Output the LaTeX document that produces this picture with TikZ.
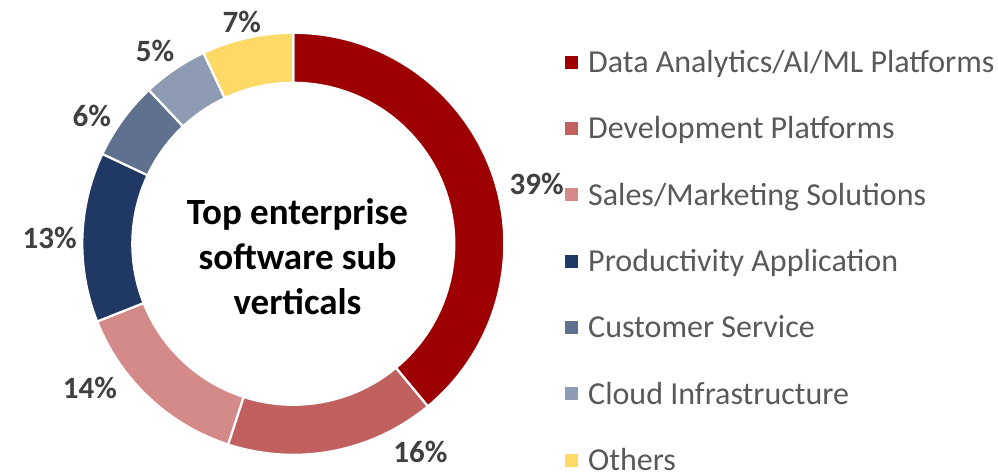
\documentclass[tikz,border=0pt]{standalone}
\usepackage{fontspec}
\setmainfont{Carlito}
\usepackage{xcolor}
\usetikzlibrary{positioning}

\definecolor{cData}{HTML}{9C0000}
\definecolor{cDev}{HTML}{C0605F}
\definecolor{cSales}{HTML}{D38A89}
\definecolor{cProd}{HTML}{203864}
\definecolor{cCust}{HTML}{5F718F}
\definecolor{cCloud}{HTML}{8E9CB3}
\definecolor{cOther}{HTML}{FFD966}
\definecolor{pctgray}{HTML}{404040}
\definecolor{leggray}{HTML}{595959}

\begin{document}
\begin{tikzpicture}[x=1pt,y=1pt,
    pct/.style={font=\fontsize{31}{37}\selectfont\bfseries, text=pctgray, inner sep=0pt, text height=19.5pt, text depth=0pt},
    legbox/.style={minimum size=13pt, inner sep=0pt},
    legtext/.style={font=\fontsize{32}{38}\selectfont, text=leggray, inner sep=0pt, text height=20.5pt, text depth=0pt, anchor=west}]
    \useasboundingbox (0,0) rectangle (998,472);
    \def\ri{161}
    \def\ro{211}

    % ring
    \begin{scope}[shift={(293.3,228.2)}]
        \foreach \a/\b/\c in {90/-50.4/cData, -50.4/-108/cDev, -108/-158.4/cSales,
                -158.4/-205.2/cProd, -205.2/-226.8/cCust, -226.8/-244.8/cCloud, -244.8/-270/cOther} {
            \filldraw[fill=\c, draw=white, line width=2.2pt]
                (\a:\ri) -- (\a:\ro) arc[start angle=\a, end angle=\b, radius=\ro]
                -- (\b:\ri) arc[start angle=\b, end angle=\a, radius=\ri] -- cycle;
        }
    \end{scope}

    % title in the hole
    \node[align=center, font=\fontsize{37}{45}\selectfont\bfseries, inner sep=0pt] (title) at (297.5,215.5)
        {Top enterprise\\software sub\\verticals};

    % percentages
    \node[pct] (pData)  at (536.7,287) {39\%};
    \node[pct] (pDev)   at (420.5,19)  {16\%};
    \node[pct] (pSales) at (90,83.5)   {14\%};
    \node[pct] (pProd)  at (49.7,233.5) {13\%};
    \node[pct] (pCust)  at (91.7,355.3) {6\%};
    \node[pct] (pCloud) at (155,420.3) {5\%};
    \node[pct] (pOther) at (241.7,449.3) {7\%};

    % legend
    \foreach \c/\t [count=\i from 0] in {cData/{Data Analytics/AI/ML Platforms}, cDev/{Development Platforms},
            cSales/{Sales/Marketing Solutions}, cProd/{Productivity Application}, cCust/{Customer Service},
            cCloud/{Cloud Infrastructure}, cOther/{Others}} {
        \node[legbox, fill=\c] (sq\i) at (571.3,409.7-66.3*\i) {};
        \node[legtext, right=10pt of sq\i] (lg\i) {\t};
    }
\end{tikzpicture}
\end{document}
